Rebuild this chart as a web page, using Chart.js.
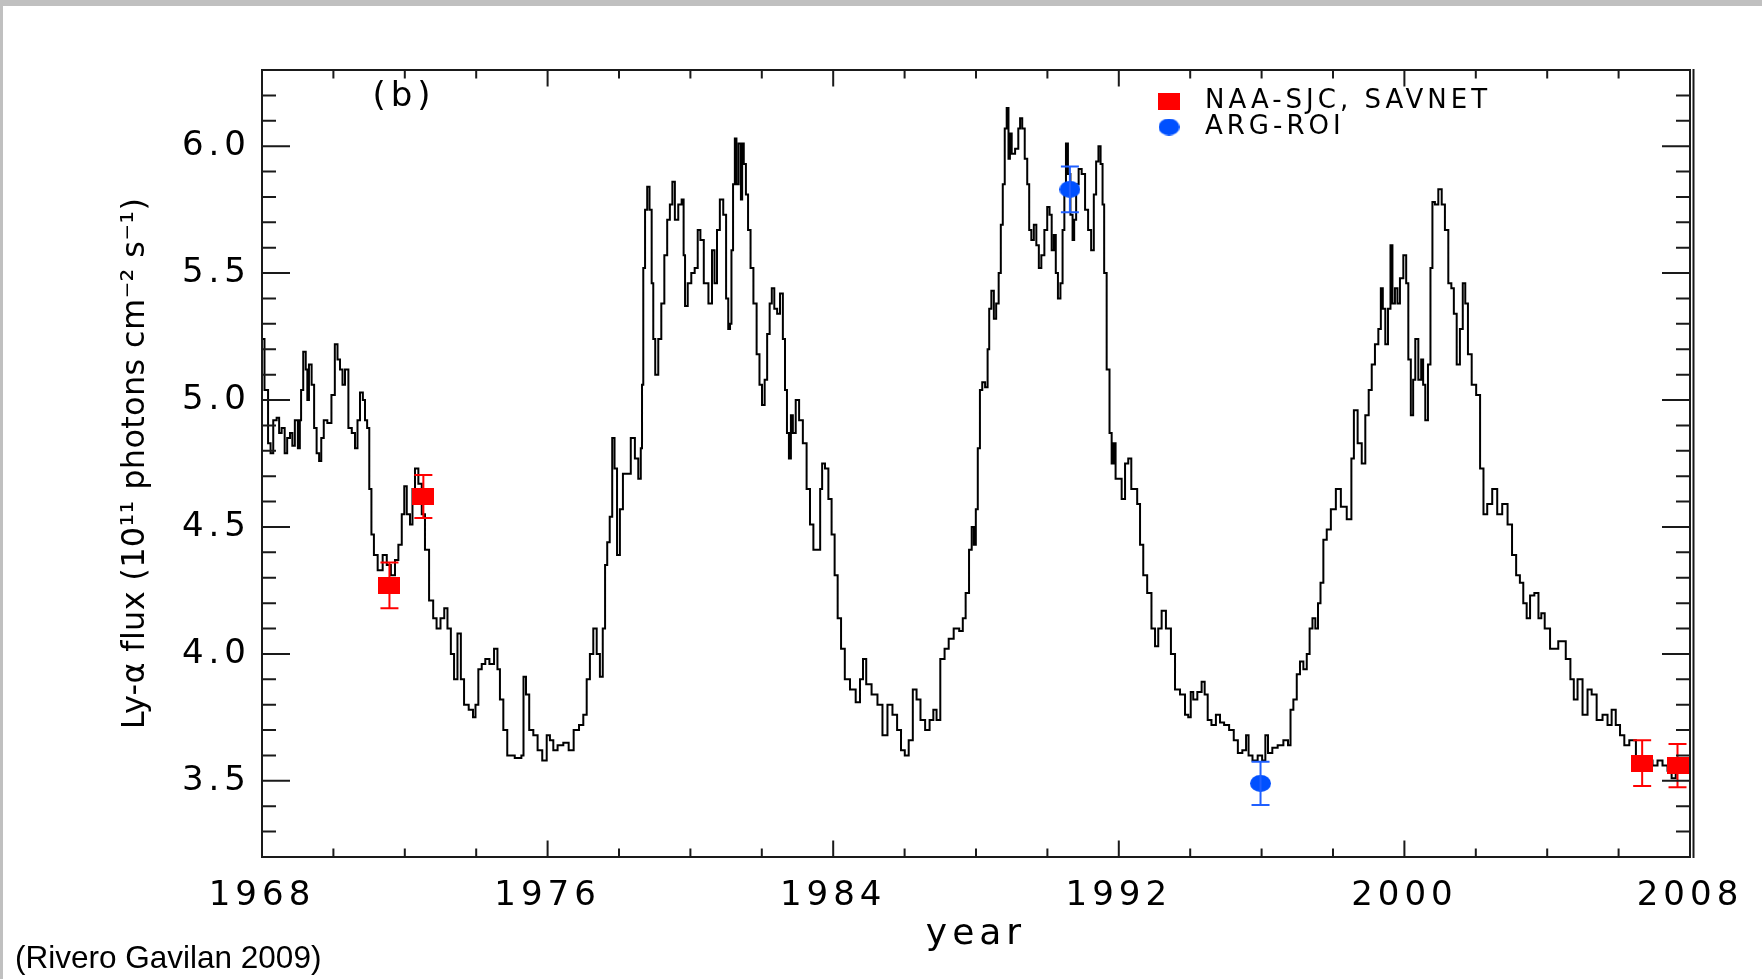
<!DOCTYPE html>
<html>
<head>
<meta charset="utf-8">
<title>Ly-α flux 1968–2008</title>
<script src="https://cdn.jsdelivr.net/npm/chart.js@4.4.1/dist/chart.umd.min.js"></script>
<style>
  html, body { margin: 0; padding: 0; background: #fff; }
  body { width: 1762px; height: 979px; position: relative; overflow: hidden; }
  #plot { position: absolute; left: 0; top: 0; }
  .edge { position: absolute; background: #c0c0c0; }
  #cite { position: absolute; left: 15px; top: 939px; font-family: 'Liberation Sans', Arial, sans-serif; font-size: 31.5px; line-height: 36px; color: #000; white-space: nowrap; }
</style>
</head>
<body>
<canvas id="plot" width="1762" height="979"></canvas>
<div class="edge" style="left:0;top:0;width:1762px;height:6px"></div>
<div class="edge" style="left:0;top:0;width:3px;height:979px"></div>
<div id="cite">(Rivero Gavilan 2009)</div>
<script>
// composite Lyman-alpha flux, 10^11 photons cm^-2 s^-1
const years = [
  1968.01, 1968.13, 1968.21, 1968.27, 1968.36, 1968.46, 1968.50, 1968.60, 1968.67, 1968.74, 1968.83, 1968.87, 1968.97,
  1969.04, 1969.08, 1969.11, 1969.20, 1969.25, 1969.29, 1969.34, 1969.44, 1969.48, 1969.58, 1969.62, 1969.70, 1969.76, 1969.90, 1969.99,
  1970.09, 1970.14, 1970.23, 1970.28, 1970.37, 1970.47, 1970.56, 1970.65, 1970.70, 1970.79, 1970.86, 1970.91, 1970.98,
  1971.03, 1971.10, 1971.17, 1971.31, 1971.45, 1971.54, 1971.68, 1971.77, 1971.87, 1971.96,
  1972.01, 1972.10, 1972.19, 1972.24, 1972.33, 1972.43, 1972.52, 1972.61, 1972.75, 1972.84, 1972.94,
  1973.06, 1973.15, 1973.24, 1973.34, 1973.42, 1973.53, 1973.61, 1973.71, 1973.87, 1973.95,
  1974.01, 1974.11, 1974.20, 1974.31, 1974.43, 1974.57, 1974.62, 1974.71, 1974.81, 1974.93,
  1975.23, 1975.30, 1975.35, 1975.44, 1975.53, 1975.67, 1975.77, 1975.93,
  1976.02, 1976.11, 1976.21, 1976.35, 1976.53, 1976.65, 1976.81, 1976.95,
  1977.05, 1977.14, 1977.23, 1977.33, 1977.42, 1977.51, 1977.58, 1977.64, 1977.70, 1977.78, 1977.84, 1977.91, 1977.98,
  1978.07, 1978.15, 1978.26, 1978.40, 1978.49, 1978.59, 1978.63, 1978.66, 1978.70, 1978.76, 1978.82, 1978.89, 1978.94, 1978.98,
  1979.05, 1979.15, 1979.22, 1979.32, 1979.38, 1979.47, 1979.52, 1979.61, 1979.71, 1979.80, 1979.82, 1979.88, 1979.97,
  1980.08, 1980.16, 1980.25, 1980.31, 1980.44, 1980.57, 1980.64, 1980.71, 1980.78, 1980.87, 1980.97,
  1981.03, 1981.09, 1981.13, 1981.17, 1981.22, 1981.27, 1981.31, 1981.39, 1981.44, 1981.46, 1981.53, 1981.58, 1981.65, 1981.72, 1981.81, 1981.90, 1981.97,
  1982.04, 1982.12, 1982.18, 1982.26, 1982.30, 1982.40, 1982.46, 1982.56, 1982.62, 1982.68, 1982.73, 1982.79, 1982.84, 1982.90,
  1983.00, 1983.09, 1983.21, 1983.30, 1983.40, 1983.49, 1983.61, 1983.66, 1983.72, 1983.82, 1983.91,
  1984.00, 1984.08, 1984.17, 1984.27, 1984.38, 1984.56, 1984.70, 1984.80, 1984.87, 1984.98,
  1985.17, 1985.31, 1985.45, 1985.59, 1985.73, 1985.85, 1985.95,
  1986.06, 1986.17, 1986.29, 1986.38, 1986.51, 1986.64, 1986.76, 1986.85, 1986.94,
  1987.06, 1987.18, 1987.29, 1987.46, 1987.60, 1987.66, 1987.76, 1987.85, 1987.91, 1987.97,
  1988.02, 1988.08, 1988.14, 1988.21, 1988.30, 1988.35, 1988.39, 1988.47, 1988.53, 1988.60, 1988.67, 1988.72, 1988.78, 1988.83, 1988.89, 1988.93, 1988.97,
  1989.03, 1989.16, 1989.21, 1989.26, 1989.33, 1989.40, 1989.47, 1989.51, 1989.59, 1989.65, 1989.73, 1989.79, 1989.87, 1989.96,
  1990.03, 1990.09, 1990.15, 1990.21, 1990.26, 1990.33, 1990.40, 1990.45, 1990.50, 1990.54, 1990.61, 1990.68, 1990.73, 1990.77, 1990.84, 1990.91,
  1991.01, 1991.10, 1991.18, 1991.27, 1991.33, 1991.40, 1991.46, 1991.52, 1991.57, 1991.61, 1991.71, 1991.77, 1991.83, 1991.88, 1991.94,
  1992.03, 1992.13, 1992.22, 1992.31, 1992.39, 1992.48, 1992.55, 1992.64, 1992.73, 1992.86, 1992.97,
  1993.06, 1993.15, 1993.25, 1993.39, 1993.53, 1993.62, 1993.81, 1993.90, 1993.99,
  1994.04, 1994.13, 1994.27, 1994.37, 1994.44, 1994.54, 1994.65, 1994.79, 1994.88,
  1995.02, 1995.16, 1995.28, 1995.39, 1995.53, 1995.60, 1995.67, 1995.82, 1995.96,
  1996.07, 1996.14, 1996.22, 1996.38, 1996.52, 1996.70, 1996.78, 1996.84, 1996.94,
  1997.03, 1997.12, 1997.22, 1997.31, 1997.38, 1997.47, 1997.54, 1997.62, 1997.68, 1997.78, 1997.87,
  1998.01, 1998.15, 1998.29, 1998.48, 1998.55, 1998.62, 1998.76, 1998.85, 1998.96,
  1999.04, 1999.13, 1999.22, 1999.32, 1999.36, 1999.43, 1999.50, 1999.58, 1999.64, 1999.69, 1999.78, 1999.83, 1999.92,
  2000.02, 2000.08, 2000.14, 2000.22, 2000.27, 2000.34, 2000.44, 2000.50, 2000.55, 2000.62, 2000.70, 2000.76, 2000.81, 2000.90,
  2001.00, 2001.09, 2001.18, 2001.28, 2001.35, 2001.42, 2001.51, 2001.60, 2001.67, 2001.74, 2001.82, 2001.95,
  2002.07, 2002.17, 2002.26, 2002.38, 2002.54, 2002.66, 2002.82, 2002.96,
  2003.07, 2003.19, 2003.28, 2003.38, 2003.47, 2003.57, 2003.71, 2003.80, 2003.87, 2003.99,
  2004.17, 2004.45, 2004.59, 2004.71, 2004.78, 2004.92,
  2005.06, 2005.20, 2005.29, 2005.48, 2005.62, 2005.76, 2005.85, 2005.99,
  2006.09, 2006.23, 2006.37, 2006.60, 2006.74, 2006.88,
  2007.02, 2007.16, 2007.30, 2007.44, 2007.53, 2007.67, 2007.91
];
const flux = [
  5.24, 5.04, 4.83, 4.79, 4.92, 4.93, 4.87, 4.89, 4.79, 4.85, 4.87, 4.82, 4.92,
  4.81, 4.92, 5.04, 5.19, 5.12, 5.00, 5.14, 5.06, 4.89, 4.79, 4.76, 4.85, 4.92, 4.91, 5.02,
  5.22, 5.16, 5.12, 5.06, 5.12, 4.89, 4.87, 4.81, 4.92, 5.03, 5.00, 4.92, 4.89,
  4.65, 4.47, 4.39, 4.33, 4.39, 4.35, 4.31, 4.37, 4.43, 4.55,
  4.66, 4.55, 4.51, 4.65, 4.73, 4.67, 4.55, 4.41, 4.21, 4.14, 4.10,
  4.14, 4.18, 4.10, 4.00, 3.90, 4.08, 3.90, 3.80, 3.78, 3.75,
  3.80, 3.94, 3.96, 3.98, 3.96, 4.02, 3.94, 3.82, 3.70, 3.60,
  3.59, 3.60, 3.91, 3.84, 3.70, 3.68, 3.62, 3.58,
  3.68, 3.66, 3.62, 3.64, 3.65, 3.62, 3.70, 3.72,
  3.76, 3.90, 4.00, 4.10, 4.00, 3.91, 4.10, 4.35, 4.44, 4.54, 4.85, 4.73, 4.39,
  4.57, 4.71, 4.71, 4.85, 4.77, 4.69, 4.81, 5.06, 5.52, 5.75, 5.84, 5.75, 5.46, 5.24,
  5.10, 5.24, 5.38, 5.57, 5.71, 5.77, 5.86, 5.71, 5.77, 5.79, 5.57, 5.37, 5.46,
  5.50, 5.52, 5.67, 5.63, 5.46, 5.38, 5.59, 5.46, 5.67, 5.79, 5.73,
  5.40, 5.28, 5.30, 5.59, 5.85, 6.03, 5.85, 6.01, 5.79, 6.01, 5.93, 5.81, 5.67, 5.52, 5.38, 5.18, 5.06,
  4.98, 5.08, 5.26, 5.38, 5.44, 5.36, 5.34, 5.42, 5.24, 5.04, 4.87, 4.77, 4.94, 4.87,
  5.00, 4.92, 4.83, 4.65, 4.51, 4.41, 4.41, 4.65, 4.75, 4.73, 4.61,
  4.47, 4.31, 4.14, 4.02, 3.90, 3.86, 3.81, 3.90, 3.98, 3.88,
  3.84, 3.80, 3.68, 3.80, 3.76, 3.70, 3.62,
  3.60, 3.66, 3.86, 3.82, 3.74, 3.70, 3.74, 3.78, 3.74,
  3.98, 4.02, 4.06, 4.10, 4.09, 4.14, 4.24, 4.41, 4.50, 4.43,
  4.57, 4.81, 5.04, 5.07, 5.05, 5.20, 5.36, 5.43, 5.32, 5.38, 5.50, 5.69, 5.85, 6.07, 6.15, 5.95, 6.05,
  5.97, 5.99, 6.07, 6.11, 6.07, 5.95, 5.85, 5.67, 5.63, 5.69, 5.61, 5.52, 5.57, 5.67,
  5.76, 5.73, 5.59, 5.65, 5.50, 5.40, 5.46, 5.67, 5.83, 6.01, 5.89, 5.73, 5.63, 5.71, 5.85, 5.91,
  5.89, 5.75, 5.67, 5.59, 5.81, 5.94, 6.00, 5.93, 5.77, 5.50, 5.12, 4.87, 4.75, 4.83, 4.69,
  4.69, 4.61, 4.75, 4.77, 4.65, 4.65, 4.59, 4.43, 4.31, 4.24, 4.10,
  4.03, 4.10, 4.17, 4.10, 4.00, 3.86, 3.84, 3.76, 3.75,
  3.85, 3.82, 3.85, 3.89, 3.84, 3.74, 3.72, 3.76, 3.73,
  3.72, 3.70, 3.66, 3.61, 3.62, 3.68, 3.60, 3.58, 3.60,
  3.58, 3.68, 3.61, 3.63, 3.64, 3.66, 3.64, 3.78, 3.82,
  3.92, 3.97, 3.94, 4.00, 4.10, 4.14, 4.10, 4.20, 4.28, 4.45, 4.49,
  4.57, 4.65, 4.58, 4.53, 4.77, 4.96, 4.83, 4.75, 4.94,
  5.04, 5.14, 5.22, 5.28, 5.44, 5.36, 5.22, 5.36, 5.61, 5.38, 5.44, 5.38, 5.48,
  5.57, 5.46, 5.16, 4.94, 5.08, 5.24, 5.08, 5.16, 5.06, 4.92, 5.14, 5.52, 5.78, 5.77,
  5.83, 5.77, 5.67, 5.46, 5.44, 5.34, 5.14, 5.28, 5.46, 5.38, 5.18, 5.06,
  5.02, 4.73, 4.55, 4.59, 4.65, 4.55, 4.59, 4.51,
  4.39, 4.31, 4.28, 4.20, 4.14, 4.23, 4.24, 4.14, 4.16, 4.10,
  4.02, 4.05, 3.98, 3.90, 3.82, 3.90,
  3.76, 3.86, 3.84, 3.74, 3.76, 3.72, 3.78, 3.72,
  3.68, 3.64, 3.66, 3.58, 3.54, 3.58,
  3.56, 3.58, 3.56, 3.54, 3.51, 3.54, 3.55
];

// ionospheric (VLF) estimates with their error bars
const naaYears = [1971.57, 1972.52, 2006.66, 2007.65];
const naaFlux = [4.27, 4.62, 3.57, 3.56];
const naaErr = [0.09, 0.085, 0.09, 0.085];
const argYears = [1990.63, 1995.97];
const argFlux = [5.83, 3.49];
const argErr = [0.09, 0.085];

const xTicks = [1968, 1976, 1984, 1992, 2000, 2008];
const yTicks = [3.5, 4.0, 4.5, 5.0, 5.5, 6.0];

const RED = '#ff0000';
const BLUE = '#0050ff';
const IDL_FONT = "'DejaVu Sans', sans-serif";

function marker(w, h, color, round) {
  const c = document.createElement('canvas');
  c.width = w;
  c.height = h;
  const g = c.getContext('2d');
  g.fillStyle = color;
  if (round) {
    g.beginPath();
    g.ellipse(w / 2, h / 2, w / 2, h / 2, 0, 0, Math.PI * 2);
    g.fill();
  } else {
    g.fillRect(0, 0, w, h);
  }
  return c;
}
const square = marker(22, 17, RED, false);
const dot = marker(21, 17, BLUE, true);

const pairs = (xs, ys) => xs.map((x, i) => ({ x: x, y: ys[i] }));

// box, inward ticks, error bars, legend and the rotated y label
const idlFrame = {
  id: 'idlFrame',
  beforeDraw(chart) {
    chart.ctx.letterSpacing = '5px';
  },
  afterDatasetsDraw(chart) {
    const { ctx, scales: { x, y } } = chart;
    ctx.save();
    ctx.lineWidth = 2;
    chart.data.datasets.forEach(ds => {
      if (!ds.err) return;
      ctx.strokeStyle = ds.barColor;
      ds.data.forEach((p, i) => {
        const px = x.getPixelForValue(p.x);
        const hi = y.getPixelForValue(p.y + ds.err[i]);
        const lo = y.getPixelForValue(p.y - ds.err[i]);
        ctx.beginPath();
        ctx.moveTo(px, hi); ctx.lineTo(px, lo);
        ctx.moveTo(px - 9, hi); ctx.lineTo(px + 9, hi);
        ctx.moveTo(px - 9, lo); ctx.lineTo(px + 9, lo);
        ctx.stroke();
      });
    });
    ctx.restore();
  },
  afterDraw(chart) {
    const { ctx, chartArea: a, scales: { x, y } } = chart;
    ctx.save();
    ctx.letterSpacing = '0px';
    ctx.strokeStyle = '#1a1a1a';
    ctx.lineWidth = 2;
    ctx.strokeRect(a.left, a.top, a.right - a.left, a.bottom - a.top);
    ctx.beginPath();
    ctx.moveTo(a.right + 3.5, a.top - 1);
    ctx.lineTo(a.right + 3.5, a.bottom + 1);
    for (let i = 33; i <= 62; i++) {
      const py = y.getPixelForValue(i / 10);
      const len = i % 5 === 0 ? 28 : 14;
      ctx.moveTo(a.left, py); ctx.lineTo(a.left + len, py);
      ctx.moveTo(a.right, py); ctx.lineTo(a.right - len, py);
    }
    for (let yr = 1970; yr < 2008; yr += 2) {
      const px = x.getPixelForValue(yr);
      const len = (yr - 1968) % 8 === 0 ? 16.5 : 8.5;
      ctx.moveTo(px, a.bottom); ctx.lineTo(px, a.bottom - len);
      ctx.moveTo(px, a.top); ctx.lineTo(px, a.top + len);
    }
    ctx.stroke();

    ctx.fillStyle = '#000';
    ctx.textBaseline = 'middle';
    ctx.textAlign = 'center';
    ctx.letterSpacing = '5px';
    ctx.font = '34px ' + IDL_FONT;
    ctx.fillText('(b)', 404, 97);

    // legend
    const keys = chart.data.datasets.filter(ds => ds.err);
    ctx.font = '26px ' + IDL_FONT;
    ctx.letterSpacing = '4px';
    ctx.textAlign = 'left';
    keys.forEach((ds, i) => {
      const cy = 101 + i * 26;
      const img = ds.pointStyle;
      ctx.drawImage(img, 1169 - img.width / 2, cy - img.height / 2);
      ctx.fillText(ds.label, 1205, cy);
    });

    ctx.translate(144, (a.top + a.bottom) / 2);
    ctx.rotate(-Math.PI / 2);
    ctx.font = '32px ' + IDL_FONT;
    ctx.letterSpacing = '0.3px';
    ctx.textAlign = 'center';
    ctx.textBaseline = 'alphabetic';
    ctx.fillText('Ly-α flux (10¹¹ photons cm⁻² s⁻¹)', 0, 0);
    ctx.restore();
  }
};

new Chart(document.getElementById('plot'), {
  type: 'scatter',
  data: {
    datasets: [
      {
        label: 'Ly-α',
        data: pairs(years, flux),
        showLine: true,
        stepped: 'middle',
        borderColor: '#000',
        borderWidth: 2,
        pointRadius: 0,
        order: 3
      },
      {
        label: 'NAA-SJC, SAVNET',
        data: pairs(naaYears, naaFlux),
        err: naaErr,
        barColor: RED,
        pointStyle: square,
        pointRadius: 11,
        clip: false,
        order: 1
      },
      {
        label: 'ARG-ROI',
        data: pairs(argYears, argFlux),
        err: argErr,
        barColor: '#1f5fff',
        pointStyle: dot,
        pointRadius: 11,
        clip: false,
        order: 2
      }
    ]
  },
  options: {
    responsive: false,
    animation: false,
    devicePixelRatio: 1,
    layout: { padding: { left: 0, right: 72, top: 70, bottom: 0 } },
    plugins: { legend: { display: false }, tooltip: { enabled: false } },
    scales: {
      x: {
        type: 'linear',
        min: 1968,
        max: 2008,
        grid: { display: false, drawTicks: false },
        border: { display: false },
        afterFit: s => { s.height = 122; },
        afterBuildTicks: s => { s.ticks = xTicks.map(v => ({ value: v })); },
        ticks: {
          padding: 19,
          autoSkip: false,
          maxRotation: 0,
          color: '#000',
          font: { family: IDL_FONT, size: 34 },
          callback: v => String(v)
        },
        title: {
          display: true,
          text: 'year',
          color: '#000',
          font: { family: IDL_FONT, size: 36 },
          padding: { top: 0, bottom: 23 }
        }
      },
      y: {
        min: 3.2,
        max: 6.3,
        grid: { display: false, drawTicks: false },
        border: { display: false },
        afterFit: s => { s.width = 262; },
        afterBuildTicks: s => { s.ticks = yTicks.map(v => ({ value: v })); },
        ticks: {
          padding: 11,
          autoSkip: false,
          color: '#000',
          font: { family: IDL_FONT, size: 34 },
          callback: v => v.toFixed(1)
        }
      }
    }
  },
  plugins: [idlFrame]
});
</script>
</body>
</html>
